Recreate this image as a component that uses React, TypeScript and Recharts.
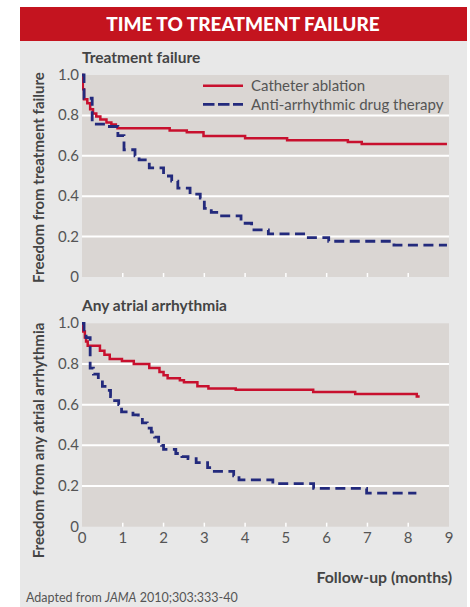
import { LineChart, Line, XAxis, YAxis, CartesianGrid } from 'recharts';

// x axis (months) and y axis ticks
const months = [0, 1, 2, 3, 4, 5, 6, 7, 8, 9];
const yTicks = [0, 0.2, 0.4, 0.6, 0.8, 1.0];
const gridVals = [0.2, 0.4, 0.6, 0.8];

// Treatment failure – catheter ablation
const ablFailT = [0, 0.02, 0.05, 0.13, 0.2, 0.27, 0.35, 0.45, 0.6, 0.72, 0.83, 0.87, 2.15, 2.57, 2.98, 4.0, 5.03, 6.52, 6.86, 8.95];
const ablFailS = [1.0, 0.93, 0.88, 0.86, 0.83, 0.81, 0.795, 0.78, 0.765, 0.755, 0.745, 0.736, 0.725, 0.716, 0.698, 0.687, 0.677, 0.668, 0.658, 0.658];

// Treatment failure – anti-arrhythmic drugs
const drugFailT = [0, 0.05, 0.25, 0.62, 0.88, 1.03, 1.3, 1.4, 1.65, 2.0, 2.2, 2.35, 2.65, 2.9, 3.0, 3.17, 3.35, 3.9, 4.16, 4.57, 5.55, 6.05, 7.65, 8.95];
const drugFailS = [1.0, 0.885, 0.757, 0.745, 0.70, 0.63, 0.60, 0.58, 0.54, 0.50, 0.475, 0.44, 0.41, 0.39, 0.34, 0.32, 0.303, 0.266, 0.233, 0.213, 0.195, 0.177, 0.158, 0.158];

// Any atrial arrhythmia – catheter ablation
const ablArrT = [0, 0.03, 0.07, 0.1, 0.14, 0.44, 0.55, 0.68, 0.98, 1.27, 1.65, 1.9, 2.0, 2.1, 2.4, 2.5, 2.83, 3.1, 3.77, 5.67, 6.7, 8.21, 8.28];
const ablArrS = [1.0, 0.96, 0.93, 0.91, 0.89, 0.865, 0.845, 0.825, 0.815, 0.80, 0.78, 0.76, 0.745, 0.73, 0.72, 0.71, 0.69, 0.68, 0.673, 0.662, 0.653, 0.64, 0.64];

// Any atrial arrhythmia – anti-arrhythmic drugs
const drugArrT = [0, 0.05, 0.1, 0.2, 0.28, 0.4, 0.5, 0.6, 0.7, 0.8, 0.9, 0.97, 1.25, 1.38, 1.48, 1.6, 1.7, 1.78, 1.88, 1.95, 2.0, 2.3, 2.45, 2.6, 2.8, 3.08, 3.2, 3.72, 3.85, 4.68, 5.68, 6.98, 8.2];
const drugArrS = [1.0, 0.95, 0.93, 0.78, 0.75, 0.72, 0.69, 0.67, 0.64, 0.62, 0.60, 0.565, 0.55, 0.535, 0.51, 0.485, 0.465, 0.44, 0.42, 0.40, 0.38, 0.36, 0.345, 0.335, 0.315, 0.29, 0.272, 0.25, 0.23, 0.212, 0.188, 0.165, 0.165];

const RED = '#c8102e';
const BLUE = '#232a7c';
const PLOT_BG = '#dad6d3';
const PANEL_BG = '#e8e8e8';
const TXT = '#555555';
const DARK = '#444444';
const FONT = 'Lato, "Noto Sans", sans-serif';

const toRows = (t: number[], s: number[]) => t.map((v, i) => ({ t: v, s: s[i] }));

// eslint-disable-next-line @typescript-eslint/no-explicit-any
const yTick = ({ x, y, payload }: any) => (
  <text x={x} y={y} dy={5} textAnchor="end" fontSize={15} fill={TXT} fontFamily={FONT}>
    {payload.value === 0 ? '0' : payload.value.toFixed(1)}
  </text>
);

const xTick = (withLabels: boolean) =>
  // eslint-disable-next-line @typescript-eslint/no-explicit-any
  ({ x, y, payload }: any) => (
    <g>
      {payload.value > 0 && payload.value < 9 && (
        <line x1={x} x2={x} y1={y} y2={y - 4} stroke="#ffffff" strokeWidth={1.5} />
      )}
      {withLabels && (
        <text x={x} y={y + 16} textAnchor="middle" fontSize={15} fill={TXT} fontFamily={FONT}>
          {payload.value}
        </text>
      )}
    </g>
  );

function KMPanel({ top, height, margin, ablation, drug, labels }: {
  top: number;
  height: number;
  margin: { top: number; right: number; bottom: number; left: number };
  ablation: { t: number; s: number }[];
  drug: { t: number; s: number }[];
  labels: boolean;
}) {
  return (
    <div style={{ position: 'absolute', left: 0, top }}>
      <LineChart width={470} height={height} margin={margin}>
        <CartesianGrid
          fill={PLOT_BG}
          fillOpacity={1}
          vertical={false}
          horizontalValues={gridVals}
          stroke="#ffffff"
          strokeWidth={2}
        />
        <XAxis
          type="number"
          dataKey="t"
          domain={[0, 9]}
          ticks={months}
          allowDataOverflow
          axisLine={false}
          tickLine={false}
          tickSize={0}
          tickMargin={0}
          height={20}
          tick={xTick(labels)}
          interval={0}
        />
        <YAxis
          type="number"
          domain={[0, 1]}
          ticks={yTicks}
          width={30}
          axisLine={false}
          tickLine={false}
          tickSize={0}
          tickMargin={3}
          tick={yTick}
          interval={0}
        />
        <Line
          data={ablation}
          dataKey="s"
          type="stepAfter"
          stroke={RED}
          strokeWidth={2.5}
          dot={false}
          activeDot={false}
          isAnimationActive={false}
        />
        <Line
          data={drug}
          dataKey="s"
          type="stepAfter"
          stroke={BLUE}
          strokeWidth={2.8}
          strokeDasharray="10 5.5"
          dot={false}
          activeDot={false}
          isAnimationActive={false}
        />
      </LineChart>
    </div>
  );
}

export default function App() {
  return (
    <div style={{ position: 'absolute', left: 0, top: 0, width: 470, height: 607, background: '#ffffff', fontFamily: FONT }}>
      <svg width={470} height={607} style={{ position: 'absolute', left: 0, top: 0 }}>
        <rect x={20} y={7} width={447} height={600} fill={PANEL_BG} />
        <rect x={20} y={7} width={447} height={34} fill="#c4141f" />
        <text x={243} y={31} textAnchor="middle" fontSize={19} fontWeight={900} fill="#ffffff" fontFamily={FONT}>
          TIME TO TREATMENT FAILURE
        </text>

        <text x={82} y={63} fontSize={15.5} fontWeight={700} fill={DARK} fontFamily={FONT}>Treatment failure</text>
        <text x={82} y={311} fontSize={15.5} fontWeight={700} fill={DARK} fontFamily={FONT}>Any atrial arrhythmia</text>

        <text transform="translate(44,177.5) rotate(-90)" textAnchor="middle" fontSize={15} fontWeight={700} fill={DARK} fontFamily={FONT}>
          Freedom from treatment failure
        </text>
        <text transform="translate(44,440.5) rotate(-90)" textAnchor="middle" fontSize={15} fontWeight={700} fill={DARK} fontFamily={FONT}>
          Freedom from any atrial arrhythmia
        </text>

        <text x={452} y={583} textAnchor="end" fontSize={15.8} fontWeight={700} fill={DARK} fontFamily={FONT}>Follow-up (months)</text>
        <text x={26} y={602} fontSize={12.5} fill={TXT} fontFamily={FONT}>
          Adapted from <tspan fontStyle="italic">JAMA</tspan> 2010;303:333-40
        </text>
      </svg>

      <KMPanel
        top={0}
        height={300}
        margin={{ top: 75, right: 21, bottom: 3, left: 52 }}
        ablation={toRows(ablFailT, ablFailS)}
        drug={toRows(drugFailT, drugFailS)}
        labels={false}
      />
      <KMPanel
        top={300}
        height={307}
        margin={{ top: 23.3, right: 21, bottom: 60.3, left: 52 }}
        ablation={toRows(ablArrT, ablArrS)}
        drug={toRows(drugArrT, drugArrS)}
        labels={true}
      />

      <svg width={470} height={120} style={{ position: 'absolute', left: 0, top: 0 }}>
        <line x1={203} x2={243} y1={85.7} y2={85.7} stroke={RED} strokeWidth={2.5} />
        <text x={251} y={91} fontSize={15} fill={TXT} fontFamily={FONT}>Catheter ablation</text>
        <line x1={203} x2={243} y1={104.3} y2={104.3} stroke={BLUE} strokeWidth={2.8} strokeDasharray="11.5 3.5" />
        <text x={251} y={109.5} fontSize={15} fill={TXT} fontFamily={FONT}>Anti-arrhythmic drug therapy</text>
      </svg>
    </div>
  );
}
